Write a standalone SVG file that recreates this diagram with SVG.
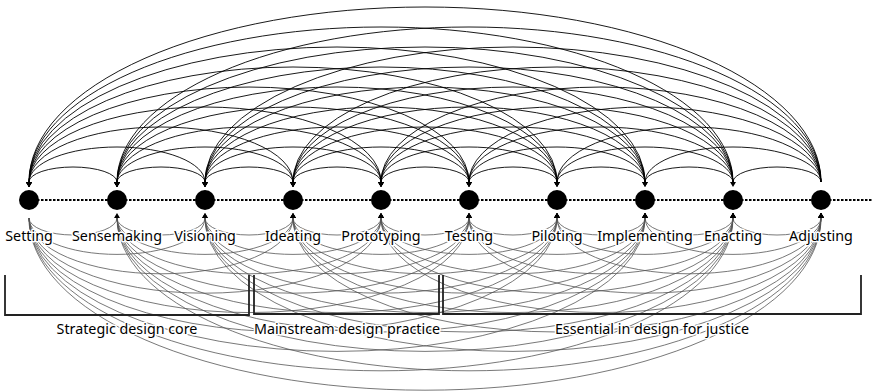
<svg xmlns="http://www.w3.org/2000/svg" width="873" height="392" viewBox="0 0 873 392">
<style>
.up{fill:none;stroke:#000;stroke-width:0.9;marker-end:url(#ah)}
.lo{fill:none;stroke:#555;stroke-width:0.8;marker-end:url(#ah)}
.node{fill:#000}
.lbl{font-family:"Noto Sans","Open Sans",sans-serif;font-size:14.3px;text-anchor:middle;fill:#000;paint-order:stroke;stroke:#fff;stroke-width:3px;stroke-linejoin:round}
.br{fill:none;stroke:#222;stroke-width:1.8}
</style>
<defs>
<marker id="ah" viewBox="0 -5 10 10" refX="0" refY="0" markerWidth="10" markerHeight="10" markerUnits="userSpaceOnUse" orient="auto" overflow="visible">
<path d="M0,-3 L5,0 L0,3 z" fill="#000"/>
</marker>
</defs>
<rect width="873" height="392" fill="#fff"/>
<g id="connectors">
<g id="upper-arcs">
<path class="up" d="M117 182A44 15 0 0 0 29 182"/>
<path class="up" d="M205 182A44 15 0 0 0 117 182"/>
<path class="up" d="M293 182A44 15 0 0 0 205 182"/>
<path class="up" d="M381 182A44 15 0 0 0 293 182"/>
<path class="up" d="M469 182A44 15 0 0 0 381 182"/>
<path class="up" d="M557 182A44 15 0 0 0 469 182"/>
<path class="up" d="M645 182A44 15 0 0 0 557 182"/>
<path class="up" d="M733 182A44 15 0 0 0 645 182"/>
<path class="up" d="M821 182A44 15 0 0 0 733 182"/>
<path class="up" d="M205 182A88 35 0 0 0 29 182"/>
<path class="up" d="M293 182A88 35 0 0 0 117 182"/>
<path class="up" d="M381 182A88 35 0 0 0 205 182"/>
<path class="up" d="M469 182A88 35 0 0 0 293 182"/>
<path class="up" d="M557 182A88 35 0 0 0 381 182"/>
<path class="up" d="M645 182A88 35 0 0 0 469 182"/>
<path class="up" d="M733 182A88 35 0 0 0 557 182"/>
<path class="up" d="M821 182A88 35 0 0 0 645 182"/>
<path class="up" d="M293 182A132 55 0 0 0 29 182"/>
<path class="up" d="M381 182A132 55 0 0 0 117 182"/>
<path class="up" d="M469 182A132 55 0 0 0 205 182"/>
<path class="up" d="M557 182A132 55 0 0 0 293 182"/>
<path class="up" d="M645 182A132 55 0 0 0 381 182"/>
<path class="up" d="M733 182A132 55 0 0 0 469 182"/>
<path class="up" d="M821 182A132 55 0 0 0 557 182"/>
<path class="up" d="M381 182A176 75 0 0 0 29 182"/>
<path class="up" d="M469 182A176 75 0 0 0 117 182"/>
<path class="up" d="M557 182A176 75 0 0 0 205 182"/>
<path class="up" d="M645 182A176 75 0 0 0 293 182"/>
<path class="up" d="M733 182A176 75 0 0 0 381 182"/>
<path class="up" d="M821 182A176 75 0 0 0 469 182"/>
<path class="up" d="M469 182A220 95 0 0 0 29 182"/>
<path class="up" d="M557 182A220 95 0 0 0 117 182"/>
<path class="up" d="M645 182A220 95 0 0 0 205 182"/>
<path class="up" d="M733 182A220 95 0 0 0 293 182"/>
<path class="up" d="M821 182A220 95 0 0 0 381 182"/>
<path class="up" d="M557 182A264 115 0 0 0 29 182"/>
<path class="up" d="M645 182A264 115 0 0 0 117 182"/>
<path class="up" d="M733 182A264 115 0 0 0 205 182"/>
<path class="up" d="M821 182A264 115 0 0 0 293 182"/>
<path class="up" d="M645 182A308 135 0 0 0 29 182"/>
<path class="up" d="M733 182A308 135 0 0 0 117 182"/>
<path class="up" d="M821 182A308 135 0 0 0 205 182"/>
<path class="up" d="M733 182A352 155 0 0 0 29 182"/>
<path class="up" d="M821 182A352 155 0 0 0 117 182"/>
<path class="up" d="M821 182A396 175 0 0 0 29 182"/>
</g>
<g id="lower-arcs">
<path class="lo" d="M29 218A44 17 0 0 0 117 218"/>
<path class="lo" d="M117 218A44 17 0 0 0 205 218"/>
<path class="lo" d="M205 218A44 17 0 0 0 293 218"/>
<path class="lo" d="M293 218A44 17 0 0 0 381 218"/>
<path class="lo" d="M381 218A44 17 0 0 0 469 218"/>
<path class="lo" d="M469 218A44 17 0 0 0 557 218"/>
<path class="lo" d="M557 218A44 17 0 0 0 645 218"/>
<path class="lo" d="M645 218A44 17 0 0 0 733 218"/>
<path class="lo" d="M733 218A44 17 0 0 0 821 218"/>
<path class="lo" d="M29 218A88 36.4 0 0 0 205 218"/>
<path class="lo" d="M117 218A88 36.4 0 0 0 293 218"/>
<path class="lo" d="M205 218A88 36.4 0 0 0 381 218"/>
<path class="lo" d="M293 218A88 36.4 0 0 0 469 218"/>
<path class="lo" d="M381 218A88 36.4 0 0 0 557 218"/>
<path class="lo" d="M469 218A88 36.4 0 0 0 645 218"/>
<path class="lo" d="M557 218A88 36.4 0 0 0 733 218"/>
<path class="lo" d="M645 218A88 36.4 0 0 0 821 218"/>
<path class="lo" d="M29 218A132 55.8 0 0 0 293 218"/>
<path class="lo" d="M117 218A132 55.8 0 0 0 381 218"/>
<path class="lo" d="M205 218A132 55.8 0 0 0 469 218"/>
<path class="lo" d="M293 218A132 55.8 0 0 0 557 218"/>
<path class="lo" d="M381 218A132 55.8 0 0 0 645 218"/>
<path class="lo" d="M469 218A132 55.8 0 0 0 733 218"/>
<path class="lo" d="M557 218A132 55.8 0 0 0 821 218"/>
<path class="lo" d="M29 218A176 75.2 0 0 0 381 218"/>
<path class="lo" d="M117 218A176 75.2 0 0 0 469 218"/>
<path class="lo" d="M205 218A176 75.2 0 0 0 557 218"/>
<path class="lo" d="M293 218A176 75.2 0 0 0 645 218"/>
<path class="lo" d="M381 218A176 75.2 0 0 0 733 218"/>
<path class="lo" d="M469 218A176 75.2 0 0 0 821 218"/>
<path class="lo" d="M29 218A220 94.6 0 0 0 469 218"/>
<path class="lo" d="M117 218A220 94.6 0 0 0 557 218"/>
<path class="lo" d="M205 218A220 94.6 0 0 0 645 218"/>
<path class="lo" d="M293 218A220 94.6 0 0 0 733 218"/>
<path class="lo" d="M381 218A220 94.6 0 0 0 821 218"/>
<path class="lo" d="M29 218A264 114 0 0 0 557 218"/>
<path class="lo" d="M117 218A264 114 0 0 0 645 218"/>
<path class="lo" d="M205 218A264 114 0 0 0 733 218"/>
<path class="lo" d="M293 218A264 114 0 0 0 821 218"/>
<path class="lo" d="M29 218A308 133.4 0 0 0 645 218"/>
<path class="lo" d="M117 218A308 133.4 0 0 0 733 218"/>
<path class="lo" d="M205 218A308 133.4 0 0 0 821 218"/>
<path class="lo" d="M29 218A352 152.8 0 0 0 733 218"/>
<path class="lo" d="M117 218A352 152.8 0 0 0 821 218"/>
<path class="lo" d="M29 218A396 172.2 0 0 0 821 218"/>
</g>
<line id="timeline" x1="29" y1="200" x2="873" y2="200" stroke="#000" stroke-width="2" stroke-dasharray="2.5 1.5"/>
</g>
<g id="brackets">
<path class="br" d="M5 275V315H249V275"/>
<path class="br" d="M254 275V314H439V275"/>
<path class="br" d="M443 275V314H861V275"/>
<text class="lbl" x="127" y="334">Strategic design core</text>
<text class="lbl" x="347" y="334">Mainstream design practice</text>
<text class="lbl" x="652" y="334">Essential in design for justice</text>
</g>
<g id="n-setting"><circle class="node" cx="29" cy="200" r="10"/><text class="lbl" x="29" y="241">Setting</text></g>
<g id="n-sensemaking"><circle class="node" cx="117" cy="200" r="10"/><text class="lbl" x="117" y="241">Sensemaking</text></g>
<g id="n-visioning"><circle class="node" cx="205" cy="200" r="10"/><text class="lbl" x="205" y="241">Visioning</text></g>
<g id="n-ideating"><circle class="node" cx="293" cy="200" r="10"/><text class="lbl" x="293" y="241">Ideating</text></g>
<g id="n-prototyping"><circle class="node" cx="381" cy="200" r="10"/><text class="lbl" x="381" y="241">Prototyping</text></g>
<g id="n-testing"><circle class="node" cx="469" cy="200" r="10"/><text class="lbl" x="469" y="241">Testing</text></g>
<g id="n-piloting"><circle class="node" cx="557" cy="200" r="10"/><text class="lbl" x="557" y="241">Piloting</text></g>
<g id="n-implementing"><circle class="node" cx="645" cy="200" r="10"/><text class="lbl" x="645" y="241">Implementing</text></g>
<g id="n-enacting"><circle class="node" cx="733" cy="200" r="10"/><text class="lbl" x="733" y="241">Enacting</text></g>
<g id="n-adjusting"><circle class="node" cx="821" cy="200" r="10"/><text class="lbl" x="821" y="241">Adjusting</text></g>
</svg>
